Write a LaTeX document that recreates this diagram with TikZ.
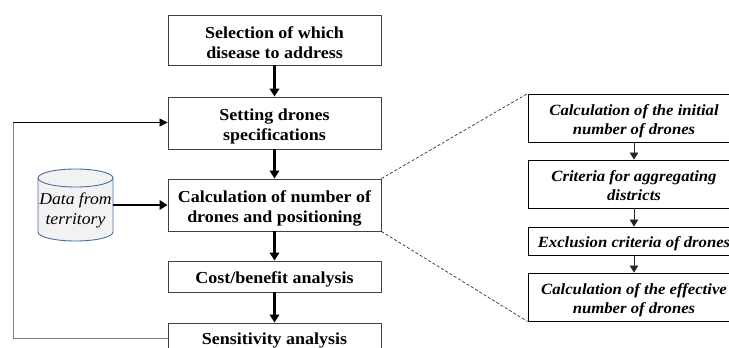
\documentclass[tikz,border=0pt]{standalone}
\usepackage{fontspec}
\setmainfont{Liberation Serif}[FakeStretch=1.07]
\usetikzlibrary{arrows.meta}
\definecolor{edge}{HTML}{404040}
\definecolor{cylblue}{HTML}{4A6EA5}
\definecolor{cylfill}{HTML}{F2F2F2}
\newcommand{\liftline}[1]{\rule{0pt}{#1}}
\tikzset{
  x=1pt,y=-1pt,
  flowbox/.style={draw=edge,line width=0.9pt,fill=white,inner sep=0pt,align=center,font=\fontsize{16.8}{20}\selectfont\bfseries,minimum width=213pt},
  subbox/.style={draw=black,line width=0.9pt,fill=white,inner sep=0pt,align=center,font=\fontsize{15.6}{18.5}\selectfont\bfseries\itshape,minimum width=212pt},
  thick arrow/.style={-{Triangle[length=8pt,width=9.5pt]},line width=2.6pt,black},
  thin arrow/.style={-{Triangle[length=7pt,width=8.5pt]},line width=0.8pt,black!85},
  feedback/.style={line width=0.8pt},
  zoomline/.style={densely dashed,line width=0.7pt,black!80},
}
\begin{document}
\begin{tikzpicture}
\useasboundingbox (0,0) rectangle (729,348);
\clip (0,0) rectangle (729,348);
\node[flowbox,minimum height=50pt] (select) at (274.5,40) {\liftline{18pt}Selection of which\\disease to address};
\node[flowbox,minimum height=52pt] (spec) at (274.5,123) {\liftline{18pt}Setting drones\\specifications};
\node[flowbox,minimum height=52pt] (calc) at (274.5,205) {\liftline{18pt}Calculation of number of\\drones and positioning};
\node[flowbox,minimum height=31pt] (cost) at (274.5,276.5) {\liftline{17pt}Cost/benefit analysis};
\node[flowbox,minimum height=31pt,anchor=center] (sens) at (274.5,338.5) {\liftline{16pt}Sensitivity analysis};
% data store
\fill[cylfill] (38,178) arc[start angle=180,end angle=0,x radius=37.5pt,y radius=9pt] -- (113,232) arc[start angle=0,end angle=-180,x radius=37.5pt,y radius=9pt] -- cycle;
\draw[cylblue,line width=0.9pt] (38,178) -- (38,232) arc[start angle=180,end angle=360,x radius=37.5pt,y radius=9pt] -- (113,178);
\draw[cylblue,line width=0.9pt] (75.5,178) ellipse[x radius=37.5pt,y radius=9pt];
\node[minimum width=75pt,minimum height=72pt,inner sep=0pt,align=center,font=\fontsize{16.5}{20}\selectfont\itshape] (data) at (75.5,205) {\liftline{22pt}Data from\\territory};
\draw[thick arrow] (select) -- (spec);
\draw[thick arrow] (spec) -- (calc);
\draw[thick arrow] (calc) -- (cost);
\draw[thick arrow] (cost) -- (sens);
\draw[thick arrow] (data) -- (calc);
\coordinate (fbb) at (13,338);
\coordinate (fbt) at (13,122.5);
\draw[feedback,black!50] (sens.west |- fbb) -- (fbb) -- (fbt);
\draw[feedback,-{Triangle[length=8pt,width=8pt]}] (fbt) -- (spec.west |- fbt);
\node[subbox,minimum height=48pt] (init) at (634,118) {\liftline{17pt}Calculation of the initial\\number of drones};
\node[subbox,minimum height=48pt] (crit) at (634,184) {\liftline{14pt}Criteria for aggregating\\districts};
\node[subbox,minimum height=28pt] (excl) at (634,241) {\liftline{16pt}Exclusion criteria of drones};
\node[subbox,minimum height=48pt] (eff) at (634,297) {\liftline{17pt}Calculation of the effective\\number of drones};
\draw[thin arrow] (init) -- (crit);
\draw[thin arrow] (crit) -- (excl);
\draw[thin arrow] (excl) -- (eff);
\draw[zoomline] (calc.north east) -- (init.north west);
\draw[zoomline] (calc.south east) -- (eff.south west);
\end{tikzpicture}
\end{document}
